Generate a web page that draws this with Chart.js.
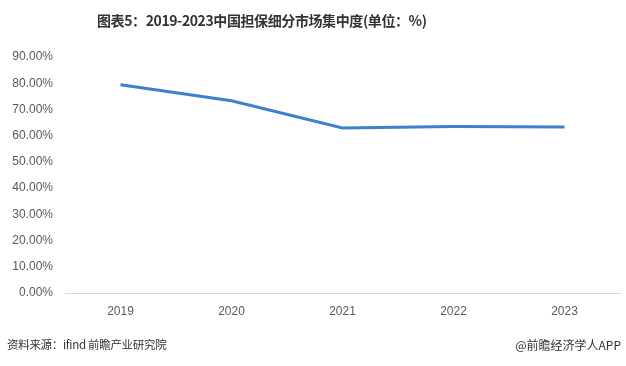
<!DOCTYPE html>
<html>
<head>
<meta charset="utf-8">
<script src="https://cdn.jsdelivr.net/npm/chart.js@4"></script>
<style>
  body { margin: 0; background: #fff; font-family: "Noto Sans CJK SC", sans-serif; }
  #wrap { position: relative; width: 626px; height: 366px; }
  #title { position: absolute; left: 97px; top: 10px; font-size: 14px; letter-spacing: -0.4px; font-weight: bold; color: #333; white-space: nowrap; }
  .foot { position: absolute; top: 336px; font-size: 12px; color: #333; white-space: nowrap; }
  #src { left: 7px; font-size: 11.5px; letter-spacing: -0.3px; }
  #app { right: 5px; }
  canvas { position: absolute; left: 0; top: 0; }
</style>
</head>
<body>
<div id="wrap">
  <canvas id="lineChart" width="626" height="366"></canvas>
  <div id="title">图表5：2019-2023中国担保细分市场集中度(单位：%)</div>
  <div class="foot" id="src">资料来源：ifind 前瞻产业研究院</div>
  <div class="foot" id="app">@前瞻经济学人APP</div>
</div>
<script>
const years = ['2019', '2020', '2021', '2022', '2023'];
const concentration = [79.4, 73.3, 62.9, 63.5, 63.3];

var ctx = document.getElementById('lineChart').getContext('2d');
const lineChart = new Chart(ctx, {
    type: 'line',
    data: {
        labels: years,
        datasets: [{
            label: '集中度',
            data: concentration,
            borderColor: '#3f7fcf',
            borderWidth: 3,
            pointRadius: 0,
            tension: 0,
            fill: false
        }]
    },
    options: {
        responsive: false,
        animation: false,
        layout: {
            padding: { top: 57, bottom: 43, left: 0, right: 6 }
        },
        plugins: {
            legend: { display: false },
            tooltip: { enabled: false }
        },
        scales: {
            x: {
                offset: true,
                grid: { display: false, drawTicks: false },
                border: { color: '#d9d9d9', width: 1 },
                ticks: {
                    color: '#595959',
                    padding: 11,
                    font: { size: 12, family: 'Liberation Sans, sans-serif' }
                },
                afterFit: function(scale) { scale.height = 30; }
            },
            y: {
                min: 0,
                max: 90,
                grid: { display: false, drawTicks: false },
                border: { display: false },
                ticks: {
                    stepSize: 10,
                    color: '#595959',
                    padding: 12,
                    font: { size: 12, family: 'Liberation Sans, sans-serif' },
                    callback: function(value) {
                        return value.toFixed(2) + '%';
                    }
                },
                afterFit: function(scale) { scale.width = 65; }
            }
        }
    }
});
</script>
</body>
</html>
